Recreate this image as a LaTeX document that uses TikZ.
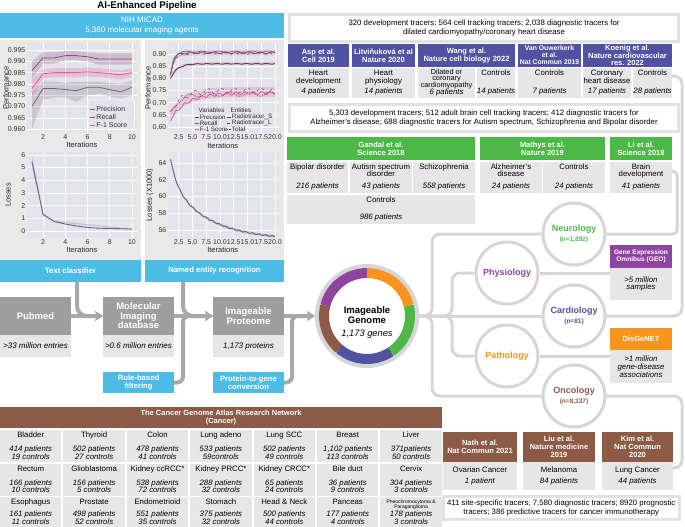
\documentclass[tikz,border=0pt]{standalone}
\usepackage{fontspec}
\setmainfont{Liberation Sans}
\usetikzlibrary{arrows.meta}

\definecolor{cyanC}{HTML}{4DBCE4}
\definecolor{pipeD}{HTML}{9E9E9E}
\definecolor{cellG}{HTML}{E6E6E6}
\definecolor{panelG}{HTML}{E9E9E9}
\definecolor{plotbg}{HTML}{E3E3EB}
\definecolor{frameG}{HTML}{E2E2E2}
\definecolor{ringG}{HTML}{D6D6D6}
\definecolor{flowG}{HTML}{A8A8A8}
\definecolor{cardC}{HTML}{5252A2}
\definecolor{neuroC}{HTML}{4DB848}
\definecolor{physC}{HTML}{8E44A0}
\definecolor{pathC}{HTML}{F7941D}
\definecolor{oncoC}{HTML}{8C5A45}
\definecolor{recC}{HTML}{8A4A78}
\definecolor{f1C}{HTML}{E05A9C}
\definecolor{preC}{HTML}{726676}
\definecolor{lossC}{HTML}{6E5F80}

\tikzset{
  box/.style={inner sep=0pt, outer sep=0pt, anchor=north west, align=center},
  cyanbox/.style={box, fill=cyanC, text=white, font=\bfseries\fontsize{7.7}{8.4}\selectfont},
  pipebox/.style={box, fill=pipeD, text=white, minimum width=71, minimum height=38, font=\bfseries\fontsize{9.5}{9.4}\selectfont},
  pipenote/.style={box, fill=cellG, minimum width=71, minimum height=22, font=\itshape\fontsize{8}{9}\selectfont},
  hdr/.style={box, fill=#1, text=white, font=\bfseries\fontsize{7.5}{7.8}\selectfont},
  tcell/.style={box, fill=cellG},
  toptxt/.style={anchor=north, align=center, inner sep=2pt, font=\fontsize{7.8}{7.6}\selectfont},
  bottxt/.style={anchor=south, align=center, inner sep=2.5pt, font=\itshape\fontsize{7.8}{7.4}\selectfont},
  tg/.style 2 args={tcell, label={[toptxt]north:{#1}}, label={[bottxt]south:{#2}}},
  notebox/.style={box, fill=white, draw=frameG, line width=3pt, font=\fontsize{7.8}{8.8}\selectfont},
  catc/.style={circle, draw=ringG, line width=3pt, fill=white, minimum size=62, inner sep=0pt, align=center, text=#1, font=\bfseries\fontsize{9}{9.5}\selectfont},
  link/.style={draw=ringG, line width=3pt, rounded corners=8pt},
  flow/.style={draw=flowG, line width=4pt, rounded corners=10pt, -{Stealth[length=8pt, width=10pt, inset=2pt]}},
  ticklab/.style={font=\fontsize{7}{7}\selectfont, inner sep=1.5pt, text=black!80},
  axlab/.style={font=\fontsize{7.5}{7.5}\selectfont, inner sep=0pt, text=black!85},
  leg/.style={font=\fontsize{6.3}{6.3}\selectfont, inner sep=.5pt, anchor=west, text=black!85},
  gridln/.style={white, line width=.6pt},
}

\begin{document}
\begin{tikzpicture}[x=1pt, y=-1pt]
\useasboundingbox (0,0) rectangle (685,527);

% AI pipeline header and panels
\node[font=\bfseries\fontsize{9.7}{10}\selectfont, inner sep=0pt] (title) at (147,6) {AI-Enhanced Pipeline};
\node[box, fill=cyanC, text=white, minimum width=284, minimum height=25, font=\fontsize{8}{9.2}\selectfont] (micad) at (0,13) {NIH MICAD\\5,360 molecular imaging agents};
\node[box, fill=panelG, minimum width=141, minimum height=220] (lpanel) at (0,40) {};
\node[box, fill=panelG, minimum width=139, minimum height=220] (rpanel) at (145,40) {};
\node[cyanbox, minimum width=141, minimum height=22] (tc) at (0,260) {Text classifier};
\node[cyanbox, minimum width=139, minimum height=22] (ner) at (145,260) {Named entity recognition};

% text classifier: performance
\begin{scope}[shift={(20.9pt,-129.1pt)}, x=11.1pt, y=2.26pt]
  \fill[plotbg] (0.55,-1.7) rectangle (10.46,38.1);
  \foreach \v in {0,5,...,35} \draw[gridln] (0.55,\v) -- (10.46,\v);
  \foreach \i in {2,4,...,10} \draw[gridln] (\i,-1.7) -- (\i,38.1);
  \fill[recC, opacity=.25] (1,30) -- (2,34) -- (3,34) -- (4,34.5) -- (5,34.5) -- (6,34) -- (7,33.5) -- (8,33.5) -- (9,33.5) -- (10,33.5)
     -- (10,28.5) -- (9,28.5) -- (8,28.5) -- (7,28.5) -- (6,30) -- (5,30.5) -- (4,30.5) -- (3,29) -- (2,29) -- (1,22) -- cycle;
  \fill[f1C, opacity=.25] (1,22) -- (2,26.5) -- (3,27) -- (4,27) -- (5,27) -- (6,27.3) -- (7,27) -- (8,26.5) -- (9,26) -- (10,27)
     -- (10,23) -- (9,22) -- (8,22.5) -- (7,23) -- (6,23.3) -- (5,23) -- (4,23) -- (3,23) -- (2,22.5) -- (1,14) -- cycle;
  \fill[preC, opacity=.22] (1,16) -- (2,21) -- (3,21) -- (4,20.5) -- (5,21) -- (6,21) -- (7,21) -- (8,20.5) -- (9,20) -- (10,21.5)
     -- (10,15) -- (9,13.5) -- (8,14.5) -- (7,15.5) -- (6,15) -- (5,12) -- (4,14) -- (3,14) -- (2,13) -- (1,0) -- cycle;
  \draw[recC, line width=.8pt] plot coordinates {(1,26) (2,31.5) (3,31.5) (4,32.5) (5,32.5) (6,32) (7,31) (8,31) (9,31) (10,31)};
  \draw[f1C, line width=.8pt] plot coordinates {(1,18) (2,24.5) (3,25) (4,25) (5,25) (6,25.3) (7,25) (8,24.5) (9,24) (10,25)};
  \draw[preC, line width=.8pt] plot coordinates {(1,10) (2,18) (3,18) (4,17.5) (5,17) (6,18.5) (7,18.5) (8,17.5) (9,16.5) (10,18.5)};
  \foreach \v/\l in {0/0.960,5/0.965,10/0.970,15/0.975,20/0.980,25/0.985,30/0.990,35/0.995}
    \node[ticklab, anchor=east] (pa\v) at (0.55,\v) {\l};
  \foreach \i in {2,4,...,10} \node[ticklab, anchor=north] (pb\i) at (\i,-1.7) {\i};
  \node[axlab] (pc) at (5.5,-7) {Iterations};
  \node[axlab, rotate=90] (pd) at (-1.34,18.2) {Performance};
  \draw[fill=plotbg, draw=white, rounded corners=1.5pt] (6.05,0.5) rectangle (10.25,12.9);
  \foreach \y/\c/\t [count=\k] in {8.9/preC/Precision, 5.3/recC/Recall, 1.7/f1C/F-1 Score}
    {\draw[\c, line width=.8pt] (6.23,\y) -- (6.67,\y);
     \node[ticklab, anchor=west, inner sep=1pt] (pl\k) at (6.7,\y) {\t};}
\end{scope}

% text classifier: losses
\begin{scope}[shift={(20.9pt,-231pt)}, x=11.1pt, y=12.7pt]
  \fill[plotbg] (0.55,-0.55) rectangle (10.46,6.22);
  \foreach \v in {0,...,6} \draw[gridln] (0.55,\v) -- (10.46,\v);
  \foreach \i in {2,4,...,10} \draw[gridln] (\i,-0.55) -- (\i,6.22);
  \fill[lossC, opacity=.25] (1,5.95) -- (2,1.4) -- (3,0.8) -- (10,0.18) -- (10,0.12) -- (3,0.7) -- (2,1.2) -- (1,5.1) -- cycle;
  \draw[lossC, line width=.9pt] plot coordinates {(1,5.45) (2,1.3) (3,0.75) (4,0.55) (5,0.4) (6,0.28) (7,0.22) (8,0.2) (9,0.18) (10,0.15)};
  \foreach \v in {0,...,6} \node[ticklab, anchor=east] (la\v) at (0.55,\v) {\v};
  \foreach \i in {2,4,...,10} \node[ticklab, anchor=north] (lb\i) at (\i,-0.55) {\i};
  \node[axlab] (lc) at (5.5,-1.5) {Iterations};
  \node[axlab, rotate=90] (ld) at (-1.16,2.83) {Losses};
\end{scope}

% named entity recognition: performance
\begin{scope}[shift={(165pt,-127pt)}, x=5.5pt, y=2.433pt]
  \fill[plotbg] (0.55,-2.5) rectangle (20.7,34.5);
  \foreach \v in {0,5,...,30} \draw[gridln] (0.55,\v) -- (20.7,\v);
  \foreach \i in {2.5,5,...,20} \draw[gridln] (\i,-2.5) -- (\i,34.5);
  \fill[recC, opacity=.22] plot[domain=1:20, samples=39] (\x,{30.7-9*exp(-(\x-1)/0.6)+0.8})
     -- plot[domain=20:1, samples=39] (\x,{30.2-9*exp(-(\x-1)/0.6)-0.8}) -- cycle;
  \draw[preC, line width=.6pt] plot[domain=1:20, samples=39, smooth] (\x,{30.9+0.35*sin(\x*120)-9.5*exp(-(\x-1)/0.5)});
  \draw[recC!80!black, line width=.6pt] plot[domain=1:20, samples=39, smooth] (\x,{30.5+0.45*sin(\x*170+20)-9*exp(-(\x-1)/0.6)});
  \draw[f1C!70!black, line width=.6pt, dashed] plot[domain=1:20, samples=39, smooth] (\x,{30.2+0.4*sin(\x*230+40)-8.5*exp(-(\x-1)/0.7)});
  \fill[recC, opacity=.2] plot[domain=1:20, samples=39] (\x,{26-6*exp(-(\x-1)/1.2)+0.6})
     -- plot[domain=20:1, samples=39] (\x,{26-6*exp(-(\x-1)/1.2)-0.6}) -- cycle;
  \draw[recC!80!black, line width=.9pt] plot[domain=1:20, samples=39, smooth] (\x,{26-6*exp(-(\x-1)/1.2)+0.2*sin(\x*200)});
  \fill[f1C, opacity=.22] plot[domain=1:20, samples=39] (\x,{14.5-10*exp(-(\x-1)/2.5)+2})
     -- plot[domain=20:1, samples=39] (\x,{14.5-10*exp(-(\x-1)/2.5)-2.2}) -- cycle;
  \draw[preC, dashed, line width=.6pt] plot[domain=1:20, samples=39, smooth] (\x,{15-9*exp(-(\x-1)/2)+1.2*sin(\x*150)});
  \draw[f1C, line width=.8pt] plot[domain=1:20, samples=39, smooth] (\x,{14-11*exp(-(\x-1)/3)+0.7*sin(\x*230)});
  \draw[recC, densely dotted, line width=.8pt] plot[domain=1:20, samples=39, smooth] (\x,{13.5-8*exp(-(\x-1)/1.5)+0.9*sin(\x*97+30)});
  \foreach \v/\l in {0/0.60,5/0.65,10/0.70,15/0.75,20/0.80,25/0.85,30/0.90}
    \node[ticklab, anchor=east] (na\v) at (0.55,\v) {\l};
  \foreach \i/\l [count=\k] in {2.5/2.5,5/5.0,7.5/7.5,10/10.0,12.5/12.5,15/15.0,17.5/17.5,20/20.0}
    \node[ticklab, anchor=north, inner sep=1.5pt] (nb\k) at (\i,-2.5) {\l};
  \node[axlab] (nc) at (10.5,-7.8) {Iterations};
  \node[axlab, rotate=90] (nd) at (-3.1,16) {Performance};
  \node[leg] (lv) at (6.0,7.0) {Variables};
  \node[leg] (le) at (11.8,7.0) {Entities};
  \foreach \y/\c/\t [count=\k] in {4.1/recC!80!black/Precision, 1.64/recC/Recall, -0.82/f1C/F-1 Score}
    {\draw[\c, line width=.7pt] (5.45,\y) -- (6.18,\y);
     \node[leg] (lva\k) at (6.2,\y) {\t};}
  \foreach \y/\s/\t [count=\k] in {4.1/solid/Radiotracer\_S, 1.64/dashed/Radiotracer\_L, -0.82/densely dotted/Total}
    {\draw[black!70, line width=.7pt, \s] (11.27,\y) -- (12.0,\y);
     \node[leg] (leb\k) at (12.05,\y) {\t};}
\end{scope}

% named entity recognition: losses
\begin{scope}[shift={(165pt,-230pt)}, x=5.5pt, y=8.375pt]
  \fill[plotbg] (0.55,-0.96) rectangle (20.7,9.3);
  \foreach \v in {0,2,...,8} \draw[gridln] (0.55,\v) -- (20.7,\v);
  \foreach \i in {2.5,5,...,20} \draw[gridln] (\i,-0.96) -- (\i,9.3);
  \fill[lossC, opacity=.25] plot[domain=1:20, samples=39] (\x,{-1.2+3*exp(-(\x-1)/1.2)+6.7*exp(-(\x-1)/7)+0.15})
     -- plot[domain=20:1, samples=39] (\x,{-1.2+3*exp(-(\x-1)/1.2)+6.7*exp(-(\x-1)/7)-0.15}) -- cycle;
  \draw[lossC, line width=.9pt] plot[domain=1:20, samples=60, smooth] (\x,{-1.2+3*exp(-(\x-1)/1.2)+6.7*exp(-(\x-1)/7)+0.08*sin(\x*300)});
  \foreach \v/\l in {0/56,2/58,4/60,6/62,8/64}
    \node[ticklab, anchor=east] (ma\l) at (0.55,\v) {\l};
  \foreach \i/\l [count=\k] in {2.5/2.5,5/5.0,7.5/7.5,10/10.0,12.5/12.5,15/15.0,17.5/17.5,20/20.0}
    \node[ticklab, anchor=north] (mb\k) at (\i,-0.96) {\l};
  \node[axlab] (mc) at (10.5,-2.39) {Iterations};
  \node[axlab, rotate=90] (md) at (-2.73,4.18) {Losses (X1000)};
\end{scope}

% pipeline
\node[pipebox] (pubmed) at (0,297) {Pubmed};
\node[pipenote] (pubmedn) at (0,335) {>33 million entries};
\node[pipebox] (mid) at (103,297) {Molecular\\Imaging\\database};
\node[pipenote] (midn) at (103,335) {>0.6 million entries};
\node[pipebox] (ip) at (213,297) {Imageable\\Proteome};
\node[pipenote] (ipn) at (213,335) {1,173 proteins};
\node[cyanbox, minimum width=71, minimum height=21] (rbf) at (103,372) {Rule-based\\filtering};
\node[cyanbox, minimum width=71, minimum height=21] (ptg) at (213,372) {Protein-to-gene\\conversion};

% imageable genome
\node[circle, draw=ringG, line width=4pt, fill=white, minimum size=100, inner sep=0pt] (genome) at (367,316) {};
\foreach \a/\b/\c in {90/166/physC, 166/230/oncoC, 230/304/cardC, 304/374/neuroC, 14/90/pathC}
  \draw[\c, line width=10pt] (genome.center) ++(\a:43pt) arc[start angle=\a, end angle=\b, radius=43pt];
\node[inner sep=0pt, align=center, font=\bfseries\fontsize{9.5}{9.5}\selectfont] (genometxt) at (367,323)
  {Imageable\\Genome\\[4pt]{\mdseries\itshape\fontsize{9.3}{9.3}\selectfont 1,173 genes}};

\draw[flow] (pubmed.east) -- (mid.west);
\draw[flow] ([xshift=6.5pt]tc.south) |- (mid.west);
\draw[flow] (mid.east) -- (ip.west);
\draw[flow] ([xshift=-31.5pt]ner.south) |- (ip.west);
\draw[flow, rounded corners=6pt] (rbf.east) -- ++(9,0) |- (ip.west);
\draw[flow] (ip.east) -- (genome.west);
\draw[flow, rounded corners=6pt] (ptg.east) -- ++(8,0) |- (genome.west);

% cardiology studies
\node[notebox, minimum width=389, minimum height=27.5] (cardnote) at (289.5,14.5)
  {320 development tracers; 564 cell tracking tracers; 2,038 diagnostic tracers for\\dilated cardiomyopathy/coronary heart disease};
\node[hdr=cardC, minimum width=61, minimum height=23] (asp) at (288,44) {Asp et al.\\Cell 2019};
\node[hdr=cardC, minimum width=63, minimum height=23] (litv) at (352,44) {Litviňuková et al\\Nature 2020};
\node[hdr=cardC, minimum width=97, minimum height=23] (wang) at (418,44) {Wang et al.\\Nature cell biology 2022};
\node[hdr=cardC, minimum width=63, minimum height=23, font=\bfseries\fontsize{6.8}{7}\selectfont] (vano) at (518,44) {Van Ouwerkerk\\et al.\\Nat Commun 2019};
\node[hdr=cardC, minimum width=89, minimum height=23, font=\bfseries\fontsize{7.5}{7.3}\selectfont] (koen) at (583,44) {Koenig et al.\\Nature cardiovascular\\res. 2022};
\node[tg={Heart\\development}{4 patients}, minimum width=61, minimum height=30] (hdev) at (288,68) {};
\node[tg={Heart\\physiology}{14 patients}, minimum width=63, minimum height=30] (hphys) at (352,68) {};
\node[tcell, minimum width=57, minimum height=30, label={[toptxt, font=\fontsize{7.3}{6.1}\selectfont, inner sep=0.6pt]north:{Dilated or\\coronary\\cardiomyopathy}},
  label={[bottxt, inner sep=1.2pt]south:{6 patients}}] (dcm) at (418,68) {};
\node[tg={Controls}{14 patients}, minimum width=38, minimum height=30] (cctrl) at (477,68) {};
\node[tg={Controls}{7 patients}, minimum width=63, minimum height=30] (vctrl) at (518,68) {};
\node[tg={Coronary\\heart disease}{17 patients}, minimum width=48, minimum height=30] (chd) at (583,68) {};
\node[tg={Controls}{28 patients}, minimum width=39, minimum height=30] (cctrl2) at (633,68) {};

% neurology studies
\node[notebox, minimum width=389, minimum height=27] (neunote) at (289.5,104.5)
  {5,303 development tracers; 512 adult brain cell tracking tracers; 412 diagnostic tracers for\\Alzheimer’s disease; 688 diagnostic tracers for Autism spectrum, Schizophrenia and Bipolar disorder};
\node[hdr=neuroC, minimum width=188, minimum height=23] (gandal) at (287,137) {Gandal et al.\\Science 2018};
\node[hdr=neuroC, minimum width=125, minimum height=23] (mathys) at (480,137) {Mathys et al.\\Nature 2019};
\node[hdr=neuroC, minimum width=62, minimum height=23] (li) at (610,137) {Li et al.\\Science 2018};
\node[tg={Bipolar disorder}{216 patients}, minimum width=61, minimum height=31.5] (bip) at (287,161.5) {};
\node[tg={Autism spectrum\\disorder}{43 patients}, minimum width=62, minimum height=31.5] (aut) at (350,161.5) {};
\node[tg={Schizophrenia}{558 patients}, minimum width=62, minimum height=31.5] (scz) at (413,161.5) {};
\node[tg={Alzheimer’s\\disease}{24 patients}, minimum width=62, minimum height=31.5] (alz) at (480,161.5) {};
\node[tg={Controls}{24 patients}, minimum width=62, minimum height=31.5] (actrl) at (543,161.5) {};
\node[tg={Brain\\development}{41 patients}, minimum width=62, minimum height=31.5] (brain) at (610,161.5) {};
\node[tg={Controls}{986 patients}, minimum width=188, minimum height=28.5] (gctrl) at (287,195) {};

% categories
\node[catc=neuroC] (neuro) at (574,234) {Neurology\\[1pt]{\fontsize{6.5}{6.5}\selectfont (n=1,892)}};
\node[catc=physC] (physio) at (507,273) {Physiology};
\node[catc=cardC] (cardio) at (574,316) {Cardiology\\[1pt]{\fontsize{6.5}{6.5}\selectfont (n=81)}};
\node[catc=pathC] (patho) at (507,356) {Pathology};
\node[catc=oncoC] (onco) at (574,396) {Oncology\\[1pt]{\fontsize{6.5}{6.5}\selectfont (n=8,337)}};

\node[hdr=physC, minimum width=62, minimum height=23, font=\bfseries\fontsize{6.6}{7.4}\selectfont] (geo) at (610,245) {Gene Expression\\Omnibus (GEO)};
\node[box, fill=cellG, minimum width=62, minimum height=32, font=\itshape\fontsize{7.8}{7.8}\selectfont] (geolow) at (610,268) {>5 million\\samples};
\node[hdr=pathC, minimum width=62, minimum height=22] (dis) at (610,328) {DisGeNET};
\node[box, fill=cellG, minimum width=62, minimum height=33, font=\itshape\fontsize{7.8}{7.8}\selectfont] (dislow) at (610,350) {>1 million\\gene-disease\\associations};

% oncology studies
\node[hdr=oncoC, minimum width=442, minimum height=21] (tcga) at (0,407) {The Cancer Genome Atlas Research Network\\(Cancer)};
\node[tg={Bladder}{414 patients\\19 controls}, minimum width=61.4, minimum height=32] (bladder) at (0,430) {};
\node[tg={Thyroid}{502 patients\\27 controls}, minimum width=61.4, minimum height=32] (thyroid) at (63.4,430) {};
\node[tg={Colon}{478 patients\\41 controls}, minimum width=61.4, minimum height=32] (colon) at (126.8,430) {};
\node[tg={Lung adeno}{533 patients\\59controls}, minimum width=61.4, minimum height=32] (luad) at (190.2,430) {};
\node[tg={Lung SCC}{502 patients\\49 controls}, minimum width=61.4, minimum height=32] (lusc) at (253.6,430) {};
\node[tg={Breast}{1,102 patients\\113 controls}, minimum width=61.4, minimum height=32] (breast) at (317,430) {};
\node[tg={Liver}{371patients\\50 controls}, minimum width=61.4, minimum height=32] (liver) at (380.4,430) {};
\node[tg={Rectum}{166 patients\\10 controls}, minimum width=61.4, minimum height=32] (rectum) at (0,463.5) {};
\node[tg={Glioblastoma}{156 patients\\5 controls}, minimum width=61.4, minimum height=32] (gbm) at (63.4,463.5) {};
\node[tg={Kidney ccRCC*}{538 patients\\72 controls}, minimum width=61.4, minimum height=32] (kirc) at (126.8,463.5) {};
\node[tg={Kidney PRCC*}{288 patients\\32 controls}, minimum width=61.4, minimum height=32] (kirp) at (190.2,463.5) {};
\node[tg={Kidney CRCC*}{65 patients\\24 controls}, minimum width=61.4, minimum height=32] (kich) at (253.6,463.5) {};
\node[tg={Bile duct}{36 patients\\9 controls}, minimum width=61.4, minimum height=32] (bile) at (317,463.5) {};
\node[tg={Cervix}{304 patients\\3 controls}, minimum width=61.4, minimum height=32] (cervix) at (380.4,463.5) {};
\node[tg={Esophagus}{161 patients\\11 controls}, minimum width=61.4, minimum height=30] (esoph) at (0,497) {};
\node[tg={Prostate}{498 patients\\52 controls}, minimum width=61.4, minimum height=30] (prost) at (63.4,497) {};
\node[tg={Endometrioid}{551 patients\\35 controls}, minimum width=61.4, minimum height=30] (endo) at (126.8,497) {};
\node[tg={Stomach}{375 patients\\32 controls}, minimum width=61.4, minimum height=30] (stom) at (190.2,497) {};
\node[tg={Head \& Neck}{500 patients\\44 controls}, minimum width=61.4, minimum height=30] (hnsc) at (253.6,497) {};
\node[tg={Panceas}{177 patients\\4 controls}, minimum width=61.4, minimum height=30] (panc) at (317,497) {};
\node[tcell, minimum width=61.4, minimum height=30, label={[toptxt, font=\fontsize{5}{5.2}\selectfont, inner sep=2.5pt]north:{Pheochromocytoma \&\\Paraganglioma}},
  label={[bottxt]south:{178 patients\\3 controls}}] (pheo) at (380.4,497) {};

\node[hdr=oncoC, minimum width=74, minimum height=30] (nath) at (443,432) {Nath et al.\\Nat Commun 2021};
\node[hdr=oncoC, minimum width=72, minimum height=30] (liu) at (523,432) {Liu et al.\\Nature medicine\\2019};
\node[hdr=oncoC, minimum width=71, minimum height=30] (kim) at (602,432) {Kim et al.\\Nat Commun\\2020};
\node[box, fill=cellG, minimum width=74, minimum height=28, font=\fontsize{7.8}{7.8}\selectfont] (nathc) at (443,462) {Ovarian Cancer\\[3pt]\textit{1 patient}};
\node[box, fill=cellG, minimum width=72, minimum height=28, font=\fontsize{7.8}{7.8}\selectfont] (liuc) at (523,462) {Melanoma\\[3pt]\textit{84 patients}};
\node[box, fill=cellG, minimum width=71, minimum height=28, font=\fontsize{7.8}{7.8}\selectfont] (kimc) at (602,462) {Lung Cancer\\[3pt]\textit{44 patients}};
\node[notebox, minimum width=235.5, minimum height=22.5] (oncnote) at (443.5,496.5)
  {411 site-specific tracers; 7,580 diagnostic tracers; 8920 prognostic\\tracers; 386 predictive tracers for cancer immunotherapy};

% connectors to the categories
\coordinate (trunk) at (432,0);
\coordinate (trunkb) at (452,0);
\coordinate (rx) at (682,0);
\coordinate (rxn) at (677,0);
\coordinate (cardin) at ([yshift=7pt]cctrl2.east);
\coordinate (brainin) at ([yshift=6pt]brain.east);
\coordinate (kimin) at ([yshift=8pt]kimc.east);
\draw[link] (genome.east) -- (cardio.west);
\draw[link] (genome.east) -| (trunk |- neuro.west) -- (neuro.west);
\draw[link] (genome.east) -| (trunk |- onco.west) -- (onco.west);
\draw[link] (genome.east) -| (trunkb |- physio.west) -- (physio.west);
\draw[link] (genome.east) -| (trunkb |- patho.west) -- (patho.west);
\draw[link] (physio.east) -- (physio.east -| geolow.west);
\draw[link] (patho.east) -- (patho.east -| dislow.west);
\draw[link] (cardin) -| (rx |- cardio.east) -- (cardio.east);
\draw[link, rounded corners=4pt] (brainin) -| (rxn |- neuro.east) -- (neuro.east);
\draw[link] (onco.east) -| (rx |- kimin) -- (kimin);
\end{tikzpicture}
\end{document}
